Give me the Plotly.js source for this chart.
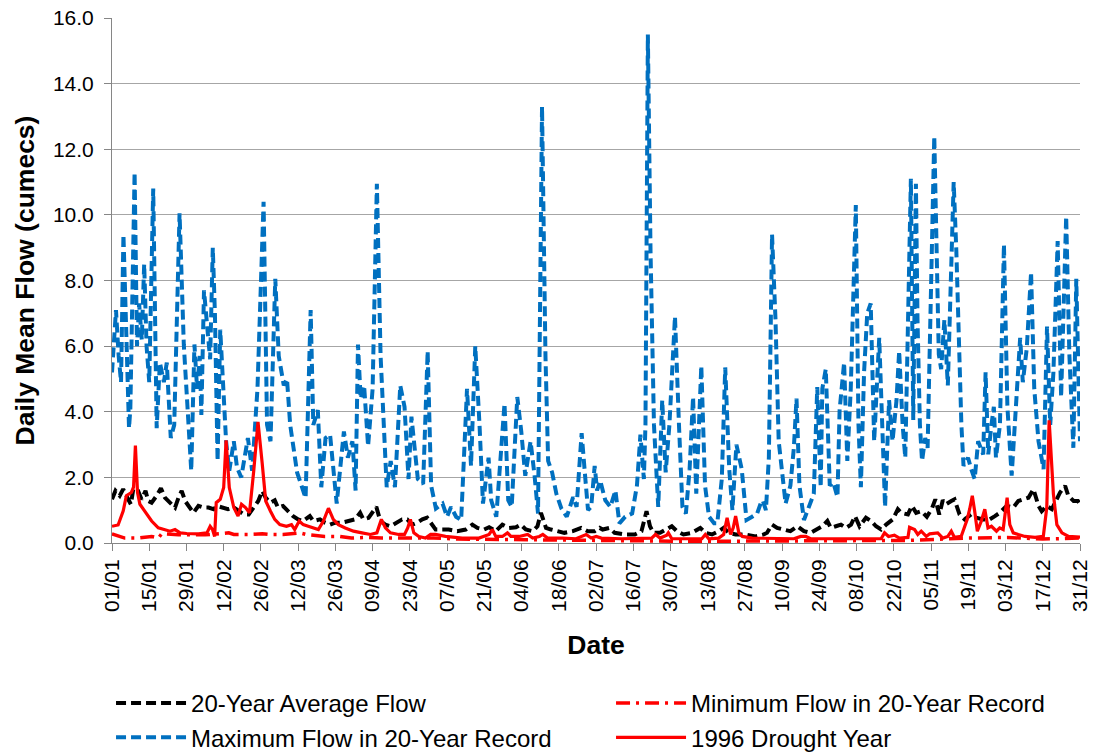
<!DOCTYPE html>
<html>
<head>
<meta charset="utf-8">
<script src="https://cdn.plot.ly/plotly-3.0.1.min.js"></script>
<style>html,body{margin:0;padding:0;background:#fff}#chart{width:1098px;height:756px}</style>
</head>
<body>
<div id="chart"></div>
<script>
// Tick labels (every 14 days from 01/01 to 31/12)
const tickLabels = ["01/01","15/01","29/01","12/02","26/02","12/03","26/03","09/04","23/04","07/05","21/05","04/06","18/06","02/07","16/07","30/07","13/08","27/08","10/09","24/09","08/10","22/10","05/11","19/11","03/12","17/12","31/12"];
const tickDays = [0,14,28,42,56,70,84,98,112,126,140,154,168,182,196,210,224,238,252,266,280,294,308,322,336,350,364];

// Maximum Flow in 20-Year Record (day of year, cumecs)
const maxDays = [0,1.5,2.5,3.4,4.3,5.3,6.4,6.9,8.5,9.4,10.2,11.2,12.1,13,14,15.5,16.8,18,19.5,20.6,22.1,23.4,25.4,27,28.5,29.8,31,32,33,33.6,34.6,36.1,36.9,37.9,38.7,39.7,40.7,42.9,44.1,45.8,47,48.6,51.1,52.7,54.7,57,58.3,59.6,61.4,62.7,64.6,65.8,67,69.6,72.8,74.7,75.7,77.4,78.7,80.3,82,84.5,87.2,88.7,90.4,91.6,92.5,93.5,94.8,96.3,98,99.6,101,103.3,104.8,106.4,108.4,110,111.5,112.6,115,117,118.7,120,121.8,124.3,126,127.5,129.4,131.3,133.5,135,136.6,138.2,139.5,141.6,142.6,144.5,147.6,149,150.3,152.4,153.9,155.4,157.4,158.9,160.2,161.7,163,164,165.5,167.1,169,171,173.4,174.7,176.6,178,179,180.2,181.5,182.4,183.6,185.5,187.4,189.3,190.8,193,195.6,197.4,198.7,200,200.6,201.5,202.5,203.8,205.4,206.9,208.2,209.6,211.7,213.2,214.5,215.8,217.2,218.5,219.7,221.6,223,224.5,226.4,227.6,229.3,230.6,232.1,233.3,234.8,236.8,238.6,240.7,242.6,243.9,244.7,245.9,247,248.2,249.5,250.7,252,253.3,255.1,256.4,257.4,258.5,260.2,262,263.9,265.2,266.5,267.1,268.4,269.9,271.2,272.8,273.6,275.3,276.5,277.8,279.7,280.7,281.6,282.8,284,285.3,286.6,288.5,289.5,290.7,292.2,293.5,295,296,297.3,298.3,300.4,301.3,302.3,302.9,303.8,304.6,305.8,306.7,309.2,310.9,311.8,313,314.3,316.5,317.5,318.5,319.4,320.2,321.9,323.1,324.4,325.7,327.6,328.5,329.5,330.7,331.6,332.4,333.9,335.4,336.7,338.3,340.2,341.5,342.5,344,345.6,346.8,348.4,350.3,351.6,352.8,354,355.6,356.9,358.8,360,361.5,362.6,364];
const maxFlow = [5.2,7.1,5.7,4.9,9.4,6.0,3.5,4.1,11.3,6.0,7.3,6.2,8.5,6.0,4.9,10.8,3.5,5.5,4.9,5.5,3.2,3.6,10.05,6.05,4.0,2.2,6.05,4.7,5.7,3.9,7.7,6.3,5.6,9.0,7.0,2.5,6.5,3.1,2.2,3.1,2.3,2.0,3.2,2.2,4.7,10.4,3.6,3.1,8.05,5.7,4.8,5.0,3.6,2.15,1.37,7.1,3.6,4.05,1.7,3.2,3.3,1.2,3.4,2.6,3.1,1.6,6.05,4.4,4.8,2.95,4.7,10.95,5.7,1.7,2.5,1.7,4.8,4.15,1.95,3.85,1.95,1.8,5.85,1.75,1.05,1.2,0.8,1.1,0.8,0.7,4.7,2.35,6.0,3.6,1.2,2.6,1.3,0.8,4.25,1.3,1.1,4.45,3.4,2.05,3.1,2.05,0.9,13.3,5.7,2.5,2.15,1.5,1.05,0.8,1.4,1.1,3.35,1.95,1.0,1.1,2.35,1.6,1.9,1.3,1.1,1.6,0.6,0.8,0.9,1.75,3.3,1.95,3.6,15.5,8.9,3.6,1.1,4.35,2.15,3.6,6.9,3.6,1.1,0.9,2.25,4.45,1.5,5.4,1.75,0.8,0.6,0.6,1.95,5.35,2.25,1.0,3.0,2.25,0.7,0.8,0.9,1.2,1.3,1.0,2.6,9.4,6.8,3.1,2.05,1.2,1.75,2.9,4.4,1.75,0.7,1.1,1.5,4.75,1.7,4.7,5.3,1.75,1.85,1.4,4.05,5.5,2.5,4.7,10.3,3.6,1.7,5.2,7.0,7.3,3.1,6.25,3.6,1.1,4.35,3.1,4.35,5.85,3.6,2.6,11.1,3.75,10.95,6.8,3.6,2.5,3.2,2.9,12.4,5.75,5.3,6.8,4.8,11.0,8.9,5.75,3.6,2.35,2.6,2.25,1.95,3.1,2.7,5.2,2.7,3.6,4.15,2.6,3.6,9.1,4.15,2.05,4.7,6.25,4.9,5.95,8.25,4.7,3.1,2.25,6.6,3.6,5.2,9.2,4.45,9.95,5.75,2.9,8.05,3.1];

// 20-Year Average Flow
const avgDays = [0,1.3,2.9,4.2,5.8,7.1,8,9.8,11.1,12.6,13.6,14.9,16.8,18.4,19.9,21.8,23.7,25,26.2,27.5,29.4,30.6,32.5,34.4,36.3,38.2,39.5,42,43.6,45.8,47.7,49.6,51.4,53.3,55,56.5,57.8,59.6,61.2,62.4,64.3,66.2,68.1,70,71.9,74.4,75.7,78.2,80.1,82,83.9,86.4,88.9,91.4,93.3,94.5,96.5,97.7,99.4,100.9,102.8,104.7,107.2,109.1,111,112.9,114.8,116.7,118.5,119.8,121.7,123.5,126.6,129.8,133,135.5,137.4,139.9,141.8,144.3,146.8,149.3,151.9,153.7,155.6,158.2,160,161.3,162,163.2,165.1,167,170.1,173.3,176.4,178.9,181.5,183.4,184.5,187,189,192.8,196.6,199.1,201,202.3,203.6,206.1,208.6,210.5,212.4,214.9,218.1,221.2,223.1,225.6,228.1,230,231.9,234.5,238.2,242,245.1,246.3,248.2,250.1,252.6,255.1,257.7,260.2,262.7,265.2,267.1,269,270.3,272.2,274.1,276,277.9,279.4,281.1,283.5,285.4,287.3,289.2,291.1,293.6,295.5,296.8,299.3,300.8,302.4,304.3,306.4,308.3,309.6,311.1,312.4,313.6,315.6,316.8,318.7,320.6,323.1,325,327.5,330,332,333.8,336.4,338.9,340.8,342.7,344.6,346.5,348.4,349.6,351.5,353.4,355.3,356.5,358.4,359.6,361.6,363.2,364];
const avgFlow = [1.33,1.59,1.44,1.64,1.38,1.18,1.64,1.59,1.33,1.59,1.28,1.23,1.44,1.67,1.38,1.23,1.08,1.38,1.59,1.28,1.08,0.92,1.13,1.08,1.08,1.03,1.13,1.08,1.03,1.08,0.97,0.87,0.87,1.08,1.28,1.59,1.38,1.23,1.3,1.08,1.13,0.97,0.82,0.72,0.67,0.82,0.67,0.72,0.62,0.56,0.62,0.62,0.67,0.72,0.92,0.72,0.77,0.92,1.1,0.67,0.56,0.51,0.62,0.72,0.72,0.56,0.62,0.72,0.77,0.62,0.41,0.41,0.41,0.36,0.41,0.56,0.46,0.41,0.48,0.36,0.56,0.46,0.48,0.56,0.41,0.36,0.51,0.92,0.72,0.46,0.41,0.36,0.31,0.36,0.46,0.36,0.36,0.46,0.41,0.46,0.31,0.26,0.26,0.36,0.97,0.51,0.31,0.31,0.41,0.51,0.36,0.26,0.31,0.46,0.31,0.26,0.36,0.46,0.31,0.26,0.26,0.2,0.26,0.31,0.56,0.46,0.41,0.36,0.51,0.36,0.31,0.41,0.51,0.67,0.46,0.51,0.56,0.46,0.56,0.82,0.51,0.77,0.67,0.51,0.41,0.56,0.72,1.03,0.92,0.87,1.13,0.92,0.97,0.8,1.05,1.33,0.87,1.3,1.18,1.28,1.33,0.87,0.72,0.87,0.77,0.72,0.72,0.82,0.92,1.13,1.08,1.28,1.33,1.38,1.64,1.13,0.97,1.13,1.03,1.38,1.54,1.74,1.44,1.28,1.28,1.18];

// Minimum Flow in 20-Year Record
const minDays = [0,2.9,4.8,9.8,14.9,17.4,18.7,25,35,43.9,45.8,51.4,56.5,59,64.3,70.6,73.1,80,85.7,90,95.7,101.5,111,117.3,121,130,150,170,190,220,245,270,300,321.6,336.6,350,364];
const minFlow = [0.28,0.21,0.15,0.15,0.2,0.15,0.28,0.25,0.25,0.31,0.26,0.26,0.28,0.26,0.26,0.31,0.26,0.2,0.2,0.15,0.17,0.15,0.15,0.13,0.15,0.12,0.1,0.1,0.08,0.05,0.06,0.06,0.08,0.15,0.17,0.12,0.15];

// 1996 Drought Year
const dryDays = [0,2.3,4.2,5.4,7.3,8.1,8.8,9.6,10.5,12.4,14.9,17.4,19.9,21.8,23.7,25.6,28.1,32.5,35.7,36.9,37.8,38.6,39.2,40.7,42,42.9,44.1,45.8,47.4,48.7,50.2,51.7,53.3,54.9,56.5,57.8,59.6,61.2,63.1,65.6,67.5,68.7,70.4,71.9,73.8,75.7,77.6,79.5,81.4,83.2,85.1,87.7,90.8,94,97.2,99.6,101.3,102.8,104.7,107.8,110,111.2,112.2,113.5,115.4,117.9,119.8,121.6,125.4,131.7,138,141.8,143,144.3,146.8,148.7,150,153.1,156.3,158.2,160.7,162,163.8,169.5,174.5,178.3,180.2,182.1,184,191.6,196.6,202.9,204.4,206.1,208.6,209.2,210.5,215.5,221.8,223.1,224.4,228.1,230,231.3,232.6,233.6,234.5,235.7,237,240.8,247.7,252.6,256.4,259,260.9,262.7,267.7,271.5,277.8,282.9,289.2,290.5,292,294.2,296.1,299.3,299.9,301.8,303,304.3,306.2,307.5,310.5,312.4,314.3,315.6,316.8,319.3,320.4,321.6,322.5,323.5,324.4,325.4,326.9,328.2,329.4,330.7,332.6,333.8,335.1,336.6,337.6,338.9,340.8,343.3,347.1,350.2,351.5,352.4,354,355.3,357.2,359.7,364];
const dryFlow = [0.51,0.55,0.97,1.44,1.54,1.7,2.97,1.54,1.18,0.97,0.67,0.46,0.41,0.36,0.41,0.31,0.29,0.28,0.31,0.51,0.41,0.2,1.23,1.33,1.69,3.13,1.69,1.08,0.82,1.18,1.08,0.92,2.2,3.69,2.41,1.28,0.97,0.72,0.56,0.51,0.56,0.41,0.67,0.56,0.51,0.46,0.41,0.67,1.06,0.72,0.56,0.46,0.36,0.31,0.26,0.31,0.72,0.46,0.31,0.26,0.26,0.46,0.72,0.31,0.2,0.15,0.26,0.26,0.2,0.15,0.15,0.26,0.41,0.2,0.2,0.31,0.2,0.2,0.26,0.15,0.2,0.26,0.15,0.15,0.13,0.26,0.15,0.2,0.15,0.13,0.13,0.15,0.26,0.15,0.24,0.31,0.13,0.13,0.13,0.26,0.13,0.15,0.26,0.77,0.26,0.46,0.82,0.31,0.2,0.15,0.15,0.15,0.13,0.2,0.2,0.13,0.13,0.15,0.15,0.13,0.13,0.31,0.2,0.24,0.15,0.17,0.48,0.41,0.26,0.36,0.2,0.28,0.31,0.15,0.2,0.36,0.17,0.2,0.46,0.72,1.03,1.44,0.97,0.36,0.67,1.03,0.46,0.51,0.36,0.46,0.41,1.38,0.56,0.31,0.26,0.2,0.17,0.2,1.08,3.74,1.49,0.56,0.31,0.2,0.18];

const FONT = '"Liberation Sans", Arial, sans-serif';
const GRID = '#a6a6a6';
const AXIS = '#868686';

const traces = [
  {x: maxDays, y: maxFlow, name: 'Maximum Flow in 20-Year Record', mode: 'lines', legendrank: 3,
   line: {color: '#0070c0', width: 4, dash: '10px,5px'}},
  {x: avgDays, y: avgFlow, name: '20-Year Average Flow', mode: 'lines', legendrank: 1,
   line: {color: '#000000', width: 4, dash: '10px,5px'}},
  {x: minDays, y: minFlow, name: 'Minimum Flow in 20-Year Record', mode: 'lines', legendrank: 2,
   line: {color: '#ff0000', width: 3.5, dash: '14px,6px,3px,6px'}},
  {x: dryDays, y: dryFlow, name: '1996 Drought Year', mode: 'lines', legendrank: 4,
   line: {color: '#ff0000', width: 3.2}}
];

const layout = {
  width: 1098, height: 756,
  margin: {l: 112, r: 18, t: 18, b: 213, autoexpand: false},
  paper_bgcolor: '#ffffff', plot_bgcolor: '#ffffff',
  font: {family: FONT, color: '#000000', size: 21},
  showlegend: true,
  legend: {orientation: 'h', xref: 'paper', yref: 'paper',
           x: -0.001, xanchor: 'left', y: -(681 - 543) / 525, yanchor: 'top',
           entrywidth: 415, itemwidth: 70, tracegroupgap: 0,
           font: {family: FONT, size: 24, color: '#000'},
           traceorder: 'normal', bgcolor: 'rgba(0,0,0,0)'},
  xaxis: {
    range: [0, 364], tickmode: 'array', tickvals: tickDays, ticktext: tickLabels,
    tickangle: -90, tickfont: {family: FONT, size: 21, color: '#000'},
    automargin: false,
    showgrid: false, zeroline: false, showline: true, linecolor: AXIS, linewidth: 1,
    ticks: 'outside', ticklen: 7, tickcolor: AXIS,
    title: {text: '<b>Date</b>', font: {family: FONT, size: 26.5, color: '#000'}, standoff: 24}
  },
  yaxis: {
    range: [0, 16], dtick: 2, tick0: 0, tickformat: '.1f',
    tickfont: {family: FONT, size: 21, color: '#000'},
    automargin: false, ticklabelstandoff: 6,
    showgrid: true, gridcolor: GRID, gridwidth: 1, zeroline: false,
    showline: true, linecolor: AXIS, linewidth: 1,
    ticks: 'outside', ticklen: 7, tickcolor: AXIS,
    title: {text: '<b>Daily Mean Flow (cumecs)</b>', font: {family: FONT, size: 26.5, color: '#000'}, standoff: 10}
  }
};

Plotly.newPlot('chart', traces, layout, {displayModeBar: false, staticPlot: true});
</script>
</body>
</html>
